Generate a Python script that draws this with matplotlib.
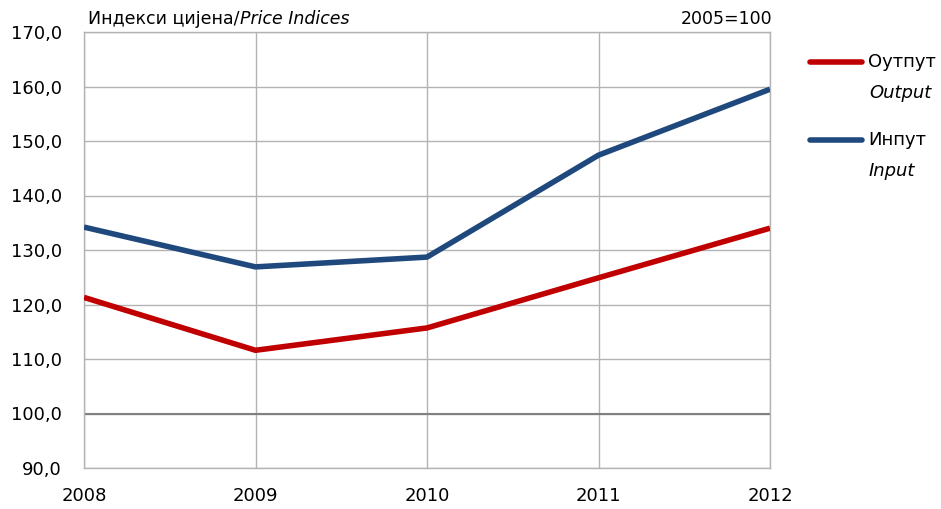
import matplotlib
matplotlib.use("Agg")
from matplotlib import pyplot as plt

years = [2008, 2009, 2010, 2011, 2012]
output_idx = [121.3, 111.6, 115.7, 124.9, 134.0]
input_idx = [134.2, 126.9, 128.7, 147.4, 159.5]
y_ticks = [90, 100, 110, 120, 130, 140, 150, 160, 170]

plt.rcParams['font.family'] = ['DejaVu Sans']

fig = plt.figure(figsize=(9.41, 5.09), dpi=100)
ax = fig.add_axes([84 / 941, 1 - 468 / 509, 686 / 941, 436 / 509])

ax.plot(years, output_idx, color='#c00000', lw=4, solid_capstyle='butt', zorder=3)
ax.plot(years, input_idx, color='#1f497d', lw=4, solid_capstyle='butt', zorder=3)

ax.set_xlim(2008, 2012)
ax.set_ylim(90, 170)
ax.set_yticks(y_ticks)
ax.set_yticklabels([f"{v:.1f}".replace('.', ',') for v in y_ticks], fontsize=13)
ax.set_xticks(years)
ax.set_xticklabels([str(y) for y in years], fontsize=13)
ax.tick_params(length=0)
ax.tick_params(axis='y', pad=16)
ax.tick_params(axis='x', pad=14)

ax.grid(True, color='#b3b3b3', lw=1)
ax.axhline(100, color='#808080', lw=1.5, zorder=2)
for s in ax.spines.values():
    s.set_color('#b3b3b3')
    s.set_linewidth(1)

# title: upright Cyrillic part, then italic English part right after it
t1 = fig.text(88 / 941, 1 - 19 / 509, "Индекси цијена/", fontsize=12.5, va='center', ha='left')
fig.canvas.draw()
bb = t1.get_window_extent()
fig.text(bb.x1 / fig.bbox.width + 1 / 941, 1 - 19 / 509, "Price Indices", fontsize=12.5,
         style='italic', va='center', ha='left')
fig.text(772 / 941, 1 - 19 / 509, "2005=100", fontsize=12.5, va='center', ha='right')

# legend drawn by hand
lx0, lx1 = 810 / 941, 862 / 941
for yy, col, lab, lab2 in [(62, '#c00000', "Оутпут", "Output"),
                           (140, '#1f497d', "Инпут", "Input")]:
    fig.add_artist(plt.Line2D([lx0, lx1], [1 - yy / 509] * 2, color=col, lw=4,
                              solid_capstyle='round', transform=fig.transFigure))
    fig.text(868 / 941, 1 - yy / 509, lab, fontsize=13, va='center', ha='left')
    fig.text(869 / 941, 1 - (yy + 31) / 509, lab2, fontsize=13, style='italic',
             va='center', ha='left')

fig.savefig("out.png", dpi=100)
